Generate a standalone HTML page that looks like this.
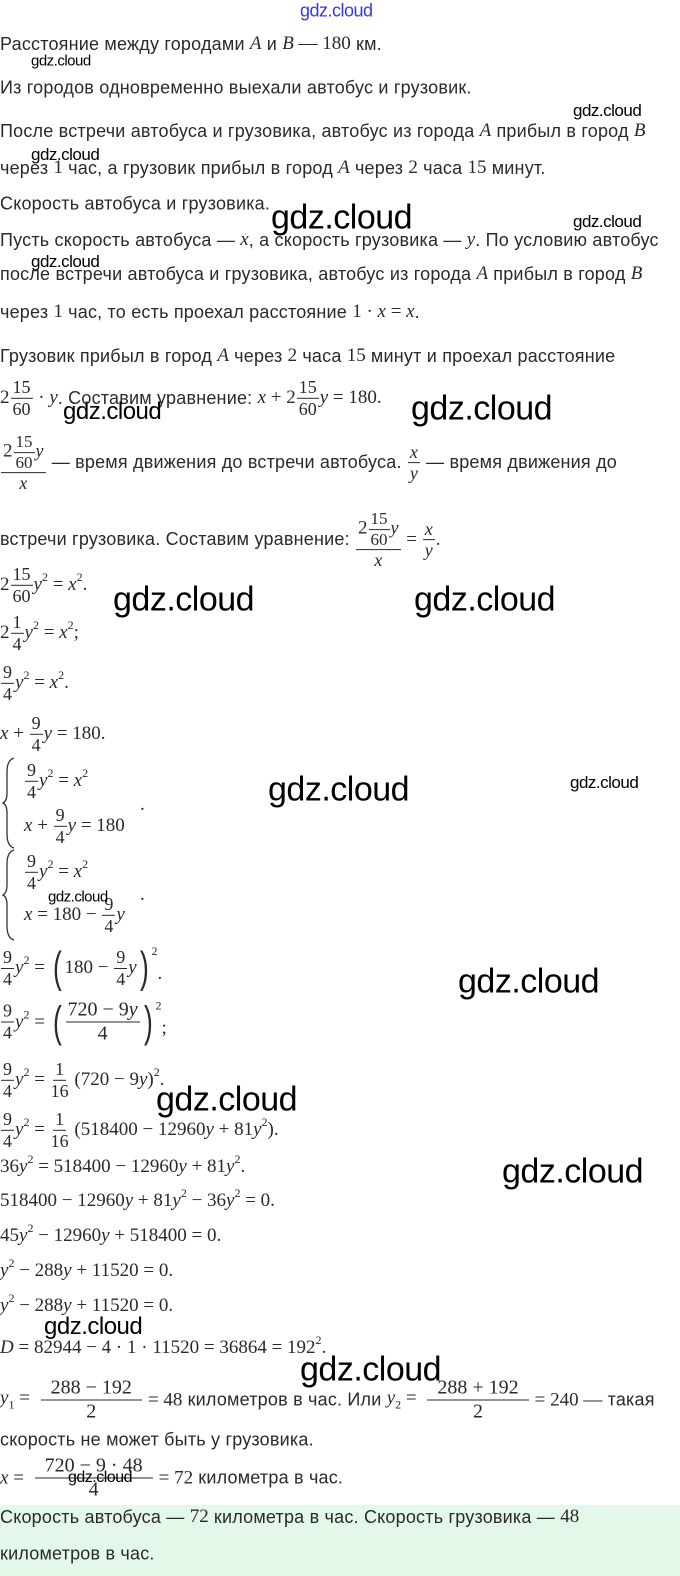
<!DOCTYPE html>
<html><head><meta charset="utf-8"><style>
body{margin:0;width:680px;height:1576px;background:#fff;position:relative;overflow:hidden;font-family:"Liberation Sans",sans-serif;color:#2a2a2a}
.l{position:absolute;left:0;transform:translateY(-50%);display:flex;align-items:center;white-space:nowrap;font-size:18px;letter-spacing:0.2px}
.m{font-family:"Liberation Serif",serif;font-size:19px;letter-spacing:0}
.i{font-style:italic}
.f{display:inline-flex;flex-direction:column;align-items:center;font-family:"Liberation Serif",serif;font-size:18px;line-height:1.15;margin:0 1px;vertical-align:middle;letter-spacing:0}
.f>span:first-child{border-bottom:1px solid #2a2a2a;padding:0 2px}
sup{font-size:12px;vertical-align:9px;line-height:0}
.w{position:absolute;font-family:"Liberation Sans",sans-serif;color:#000;white-space:nowrap;transform:translateY(-50%);letter-spacing:-0.5px}
.s{font-size:15px}.b{font-size:34px}.md{font-size:24px}
.p{font-size:44px;font-weight:100;transform:scaleX(.6);display:inline-block;line-height:1}
</style></head><body>
<div class="w" style="left:300px;top:11px;font-size:18px;color:#3a3ad8">gdz.cloud</div>
<div class="l" style="top:44px">Расстояние между городами&nbsp;<span class="m i">A</span>&nbsp;и&nbsp;<span class="m i">B</span><span class="m">&nbsp;— 180</span>&nbsp;км.</div>
<div class="w s" style="left:31px;top:61px">gdz.cloud</div>
<div class="l" style="top:88px">Из городов одновременно выехали автобус и грузовик.</div>
<div class="w s" style="left:573px;top:111px;font-size:17px">gdz.cloud</div>
<div class="l" style="top:131px">После встречи автобуса и грузовика, автобус из города&nbsp;<span class="m i">A</span>&nbsp;прибыл в город&nbsp;<span class="m i">B</span></div>
<div class="w" style="left:31px;top:155px;font-size:17px">gdz.cloud</div>
<div class="l" style="top:168px">через&nbsp;<span class="m">1</span>&nbsp;час, а грузовик прибыл в город&nbsp;<span class="m i">A</span>&nbsp;через&nbsp;<span class="m">2</span>&nbsp;часа&nbsp;<span class="m">15</span>&nbsp;минут.</div>
<div class="l" style="top:204px">Скорость автобуса и грузовика.</div>
<div class="w b" style="left:271px;top:218px">gdz.cloud</div>
<div class="w s" style="left:573px;top:222px;font-size:17px">gdz.cloud</div>
<div class="l" style="top:240px">Пусть скорость автобуса —&nbsp;<span class="m i">x</span>, а скорость грузовика —&nbsp;<span class="m i">y</span>. По условию автобус</div>
<div class="w" style="left:31px;top:262px;font-size:17px">gdz.cloud</div>
<div class="l" style="top:274px">после встречи автобуса и грузовика, автобус из города&nbsp;<span class="m i">A</span>&nbsp;прибыл в город&nbsp;<span class="m i">B</span></div>
<div class="l" style="top:312px">через&nbsp;<span class="m">1</span>&nbsp;час, то есть проехал расстояние&nbsp;<span class="m">1 · <i>x</i> = <i>x</i></span>.</div>
<div class="l" style="top:356px">Грузовик прибыл в город&nbsp;<span class="m i">A</span>&nbsp;через&nbsp;<span class="m">2</span>&nbsp;часа&nbsp;<span class="m">15</span>&nbsp;минут и проехал расстояние</div>
<div class="l" style="top:398px"><span class="m">2</span><span class="f"><span>15</span><span>60</span></span><span class="m">&nbsp;· <i>y</i></span>. Составим уравнение:&nbsp;<span class="m"><i>x</i> + 2</span><span class="f"><span>15</span><span>60</span></span><span class="m"><i>y</i> = 180.</span></div>
<div class="w md" style="left:63px;top:412px">gdz.cloud</div>
<div class="w b" style="left:411px;top:409px">gdz.cloud</div>
<div class="l" style="top:463px"><span class="f"><span><span class="m">2</span><span class="f" style="font-size:17px"><span>15</span><span>60</span></span><i>y</i></span><span><i>x</i></span></span>&nbsp;— время движения до встречи автобуса.&nbsp;<span class="f"><span><i>x</i></span><span><i>y</i></span></span>&nbsp;— время движения до</div>
<div class="l" style="top:540px">встречи грузовика. Составим уравнение:&nbsp;<span class="f"><span><span class="m">2</span><span class="f" style="font-size:17px"><span>15</span><span>60</span></span><i>y</i></span><span><i>x</i></span></span><span class="m">&nbsp;=&nbsp;</span><span class="f"><span><i>x</i></span><span><i>y</i></span></span><span class="m">.</span></div>
<div class="l" style="top:585px"><span class="m">2</span><span class="f"><span>15</span><span>60</span></span><span class="m"><i>y</i><sup>2</sup> = <i>x</i><sup>2</sup>.</span></div>
<div class="w b" style="left:113px;top:600px">gdz.cloud</div>
<div class="w b" style="left:414px;top:600px">gdz.cloud</div>
<div class="l" style="top:633px"><span class="m">2</span><span class="f"><span>1</span><span>4</span></span><span class="m"><i>y</i><sup>2</sup> = <i>x</i><sup>2</sup>;</span></div>
<div class="l" style="top:683px"><span class="f"><span>9</span><span>4</span></span><span class="m"><i>y</i><sup>2</sup> = <i>x</i><sup>2</sup>.</span></div>
<div class="l" style="top:734px"><span class="m"><i>x</i> +&nbsp;</span><span class="f"><span>9</span><span>4</span></span><span class="m"><i>y</i> = 180.</span></div>
<svg style="position:absolute;left:2px;top:757px" width="14" height="184"><path d="M12 1 Q5 3 5 15 L5 36 Q5 44 1 46 Q5 48 5 56 L5 77 Q5 89 12 91" fill="none" stroke="#333" stroke-width="1.3"/><path d="M12 93 Q5 95 5 107 L5 128 Q5 136 1 138 Q5 140 5 148 L5 169 Q5 181 12 183" fill="none" stroke="#333" stroke-width="1.3"/></svg>
<div class="l" style="top:781px;left:24px"><span class="f"><span>9</span><span>4</span></span><span class="m"><i>y</i><sup>2</sup> = <i>x</i><sup>2</sup></span></div>
<div class="l" style="top:826px;left:24px"><span class="m"><i>x</i> +&nbsp;</span><span class="f"><span>9</span><span>4</span></span><span class="m"><i>y</i> = 180</span></div>
<div class="l" style="top:805px;left:140px"><span class="m">.</span></div>
<div class="w b" style="left:268px;top:790px">gdz.cloud</div>
<div class="w" style="left:570px;top:783px;font-size:17px">gdz.cloud</div>
<div class="l" style="top:872px;left:24px"><span class="f"><span>9</span><span>4</span></span><span class="m"><i>y</i><sup>2</sup> = <i>x</i><sup>2</sup></span></div>
<div class="l" style="top:915px;left:24px"><span class="m"><i>x</i> = 180 −&nbsp;</span><span class="f"><span>9</span><span>4</span></span><span class="m"><i>y</i></span></div>
<div class="l" style="top:895px;left:140px"><span class="m">.</span></div>
<div class="w" style="left:48px;top:897px;font-size:15px">gdz.cloud</div>
<div class="l" style="top:968px"><span class="f"><span>9</span><span>4</span></span><span class="m"><i>y</i><sup>2</sup> =&nbsp;</span><span class="p">(</span><span class="m">180 −&nbsp;</span><span class="f"><span>9</span><span>4</span></span><span class="m"><i>y</i></span><span class="p">)</span><span class="m"><sup style="vertical-align:24px">2</sup>.</span></div>
<div class="w b" style="left:458px;top:982px">gdz.cloud</div>
<div class="l" style="top:1022px"><span class="f"><span>9</span><span>4</span></span><span class="m"><i>y</i><sup>2</sup> =&nbsp;</span><span class="p">(</span><span class="f" style="font-size:20px"><span>720 − 9<i>y</i></span><span>4</span></span><span class="p">)</span><span class="m"><sup style="vertical-align:24px">2</sup>;</span></div>
<div class="l" style="top:1080px"><span class="f"><span>9</span><span>4</span></span><span class="m"><i>y</i><sup>2</sup> =&nbsp;</span><span class="f"><span>1</span><span>16</span></span><span class="m">&nbsp;(720 − 9<i>y</i>)<sup>2</sup>.</span></div>
<div class="w b" style="left:156px;top:1100px">gdz.cloud</div>
<div class="l" style="top:1130px"><span class="f"><span>9</span><span>4</span></span><span class="m"><i>y</i><sup>2</sup> =&nbsp;</span><span class="f"><span>1</span><span>16</span></span><span class="m">&nbsp;(518400 − 12960<i>y</i> + 81<i>y</i><sup>2</sup>).</span></div>
<div class="l" style="top:1167px"><span class="m">36<i>y</i><sup>2</sup> = 518400 − 12960<i>y</i> + 81<i>y</i><sup>2</sup>.</span></div>
<div class="w b" style="left:502px;top:1172px">gdz.cloud</div>
<div class="l" style="top:1201px"><span class="m">518400 − 12960<i>y</i> + 81<i>y</i><sup>2</sup> − 36<i>y</i><sup>2</sup> = 0.</span></div>
<div class="l" style="top:1236px"><span class="m">45<i>y</i><sup>2</sup> − 12960<i>y</i> + 518400 = 0.</span></div>
<div class="l" style="top:1271px"><span class="m"><i>y</i><sup>2</sup> − 288<i>y</i> + 11520 = 0.</span></div>
<div class="l" style="top:1306px"><span class="m"><i>y</i><sup>2</sup> − 288<i>y</i> + 11520 = 0.</span></div>
<div class="w md" style="left:44px;top:1327px">gdz.cloud</div>
<div class="l" style="top:1348px"><span class="m"><i>D</i> = 82944 − 4 · 1 · 11520 = 36864 = 192<sup>2</sup>.</span></div>
<div class="w b" style="left:300px;top:1370px">gdz.cloud</div>
<div class="l" style="top:1400px"><span class="m"><i>y</i><sub style="font-size:12px">1</sub> =&nbsp;</span><span class="f" style="font-size:20px;margin:0 6px"><span style="padding:0 10px">288 − 192</span><span>2</span></span><span class="m">= 48</span>&nbsp;километров в час. Или&nbsp;<span class="m"><i>y</i><sub style="font-size:12px">2</sub> =&nbsp;</span><span class="f" style="font-size:20px;margin:0 6px"><span style="padding:0 10px">288 + 192</span><span>2</span></span><span class="m">= 240 —</span>&nbsp;такая</div>
<div class="l" style="top:1440px">скорость не может быть у грузовика.</div>
<div class="l" style="top:1478px"><span class="m"><i>x</i> =&nbsp;</span><span class="f" style="font-size:20px;margin:0 6px"><span style="padding:0 10px">720 − 9 · 48</span><span>4</span></span><span class="m">= 72</span>&nbsp;километра в час.</div>
<div class="w" style="left:68px;top:1478px;font-size:16px">gdz.cloud</div>
<div style="position:absolute;left:0;top:1505px;width:680px;height:71px;background:#e3f8e9"></div>
<div class="l" style="top:1517px">Скорость автобуса —&nbsp;<span class="m">72</span>&nbsp;километра в час. Скорость грузовика —&nbsp;<span class="m">48</span></div>
<div class="l" style="top:1554px">километров в час.</div>
</body></html>
